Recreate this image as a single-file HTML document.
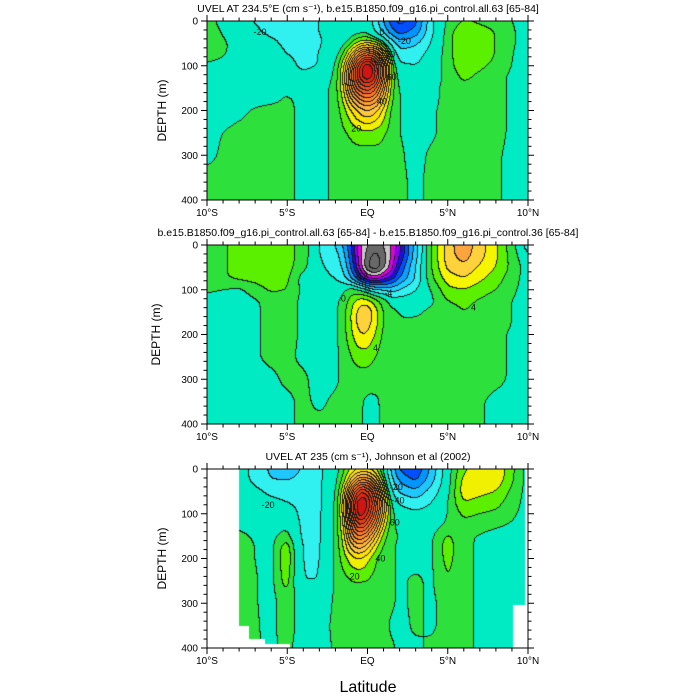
<!DOCTYPE html>
<html><head><meta charset="utf-8">
<style>
body{margin:0;background:#fff;width:700px;height:700px;overflow:hidden;font-family:"Liberation Sans",sans-serif}
#wrap{position:relative;width:700px;height:700px}
canvas{position:absolute}
svg{position:absolute;left:0;top:0}
</style></head><body>
<div id="wrap">
<canvas id="c1" width="321" height="179" style="left:207px;top:21px"></canvas>
<canvas id="c2" width="321" height="179" style="left:207px;top:245px"></canvas>
<canvas id="c3" width="321" height="179" style="left:207px;top:469px"></canvas>
<svg id="ov" width="700" height="700"></svg>
</div>
<script>
const lats=[-10,-8,-6,-5,-4,-3,-2,-1.5,-1,-0.5,0,0.5,1,1.5,2,3,4,5,6,8,10];
const depths=[0,25,50,75,100,125,150,175,200,250,300,350,400];
const panel1Values=[
[3,-8,-13,-12,-12,-10,-8,-6,-5,-4,-4,-14,-30,-45,-55,-45,-12,1,5,3,-3],
[4,-5,-12,-12,-11,-10,-8,-6,-4,-2,-2,-10,-22,-36,-45,-36,-12,3,9,5,-3],
[4,-2,-8,-12,-12,-11,-6,-2,5,12,15,12,5,-12,-26,-22,-9,3,9,5,-3],
[3,-2,-6,-10,-12,-10,-3,5,20,38,45,40,25,2,-16,-14,-6,3,9,5,-4],
[-1,-3,-5,-7,-12,-10,0,12,35,60,72,62,38,10,-8,-10,-5,3,8,4,-4],
[-2,-3,-4,-5,-8,-5,1,14,40,62,72,62,38,10,-3,-6,-4,2,6,2,-4],
[-2,-3,-3,-2,-4,-3,2,13,35,50,55,48,30,8,-1,-3,-2,2,4,2,-4],
[-2,-2,-2,1,-2,-3,2,10,25,35,40,35,22,6,0,-2,-2,2,3,2,-4],
[-2,-1,2,2,-2,-3,2,7,15,22,26,22,14,4,0,-2,-1,2,3,2,-4],
[-1,1,2,2,-2,-3,2,4,6,8,9,8,6,3,0,-2,-1,2,3,2,-4],
[-1,2,2,2,-2,-3,2,3,3,3,2,3,3,2,1,-2,1,2,3,1,-4],
[1,2,2,2,-2,-3,2,3,3,2,-1,2,3,2,1,-1,1,2,2,1,-4],
[2,2,2,2,-2,-3,2,3,3,2,2,2,3,2,1,-1,1,2,2,1,-4]];
const panel2Values=[
[1,2.5,3,3,1,-2,-4,-6,-10,-15,-18,-19,-18,-16,-13,-5,2,7,9.5,4.5,-3],
[1,2.5,3,3,1,-2,-3,-5,-9,-15,-19,-21,-19,-16,-12,-5,2,7,9,4.5,-2],
[1,2.5,3,3,0.5,-1.5,-3,-4,-8,-14,-20,-22,-19,-15,-10,-4,2,6.5,7.5,4,-1],
[1,2.5,3,2.5,-1,-1,-2,-3,-6,-10,-14,-15,-13,-11,-8,-4,1.5,5,6,3,-1],
[0.5,-0.5,2.5,2,-0.5,-1,-1,-0.5,1,0,-2,-4,-4,-5,-4,-2,0,3.5,4,2,-1],
[-1,-1,0.5,1,-0.5,-1,-0.5,0.5,3,5,5,3,1,-1,-1,-1,-0.5,2,2.5,1,-1],
[-1,-1,0.5,1,-0.5,-1,-0.5,1,4,7,8,5,2,0.5,0,-0.5,0.5,1,2,1,-1],
[-1,-1,0.5,1,-0.5,-1,-0.5,1,4,7,7,5,2,0.5,0,0.5,1,1,1,1,-1],
[-1,-1,0.5,1,-0.5,-1,-0.5,1,3.5,6,6,4,1.5,0.5,0.5,0.5,1,1,1,0.5,-1],
[-1,-1,0.5,0.5,-0.5,-1,-0.5,0.5,2,3,3,2,1,0.5,0.5,0.5,1,1,1,0.5,-1],
[-1,-1,-0.5,0.5,0.5,-1,-0.5,0.5,1,1,1,1,0.5,0.5,0.5,0.5,1,1,1,0.5,-1],
[-1,-1,-1,-0.5,0.5,-0.5,0.5,0.5,0.5,0.5,-0.5,-0.5,0.5,0.5,0.5,0.5,1,1,1,-0.5,-1],
[-1,-1,-1,-0.5,0.5,0.5,0.5,0.5,0.5,0.5,-0.5,-0.5,0.5,0.5,0.5,0.5,1,1,1,-0.5,-1]];
const panel3Values=[
[-5,-5,-22,-22,-20,-12,-3,3,10,14,14,10,0,-22,-42,-50,-28,-3,9,15,-2],
[-5,-5,-20,-21,-18,-12,-2,6,22,35,35,25,8,-16,-32,-42,-24,-3,12,14,-2],
[-3,-3,-12,-13,-13,-12,-1,12,40,60,58,42,18,-8,-22,-28,-16,-2,13,10,-2],
[-3,-3,-8,-10,-12,-12,0,15,50,72,68,50,25,0,-12,-16,-10,0,10,7,-2],
[-2,-2,-4,-6,-12,-12,1,15,48,72,62,45,22,3,-5,-8,-6,0,6,4,-2],
[-1,-1,-3,-2,-12,-12,1,13,40,58,50,35,15,2,-2,-4,-3,1,4,1,-2],
[1,1,-2,3,-12,-12,1,11,32,42,35,22,8,1,0,-2,-1,6,1,-2,-2],
[2,2,-2,9,-11,-11,1,9,22,28,22,12,4,1,-1,-2,-1,8,1,-2,-2],
[2,2,-2,10,-11,-11,1,7,13,16,12,6,2,1,-1,-2,-1,7,1,-2,-2],
[3,3,-2,8,-10,-10,1,3,5,5,5,3,2,1,-1,1,-1,5,1,-2,-2],
[3,3,-2,3,-3,-4,1,2,3,3,2,2,2,1,-1,1,-1,2,1,-2,-2],
[2,2,-1,2,-2,-2,1,2,2,2,2,2,2,-1,-2,1,-1,2,1,-2,-2],
[2,2,-1,1,-2,-2,0.5,2,3,3,3,2,2,1,-1,-1,1,2,1,-2,-2]];
const latTicks=[-10,-5,0,5,10];
const latTickLabels=["10°S","5°S","EQ","5°N","10°N"];
const depthTicks=[0,100,200,300,400];

const PX0=207,PW=321,PH=179,panelTops=[21,245,469];
function xScale(lat){return PX0+(lat+10)/20*PW;}
function yScale(d,top){return top+d/400*PH;}

function colorUV(v){
  if(v<-40)return[0,80,255];if(v<-30)return[0,150,255];if(v<-20)return[30,200,255];
  if(v<-10)return[48,240,240];if(v<0)return[0,235,195];
  const pos=[[46,224,60],[90,240,0],[240,240,0],[255,225,0],[255,200,60],[255,180,60],[255,160,50],[255,140,40],[255,120,40],[245,100,35],[240,80,30],[230,60,20],[220,40,20],[210,20,20],[200,0,0]];
  return pos[Math.min(pos.length-1,Math.floor(v/5))];
}
function levelUV(v){return v<0?Math.floor(v/10):Math.floor(v/5);}
function colorDiff(v){
  const neg=[[0,235,195],[48,240,240],[30,210,255],[10,160,255],[0,80,255],[20,20,220],[140,0,255],[224,0,224],[200,200,200],[104,104,104]];
  const pos=[[46,224,60],[90,240,0],[245,245,0],[255,210,60],[255,165,64]];
  if(v<0)return neg[Math.min(neg.length-1,Math.floor(-v/2))];
  return pos[Math.min(pos.length-1,Math.floor(v/2))];
}
function levelDiff(v){return Math.floor(v/2);}
function interp(grid,lat,d){
  let i=0;while(i<lats.length-2&&lat>lats[i+1])i++;
  let j=0;while(j<depths.length-2&&d>depths[j+1])j++;
  const tx=Math.max(0,Math.min(1,(lat-lats[i])/(lats[i+1]-lats[i])));
  const ty=Math.max(0,Math.min(1,(d-depths[j])/(depths[j+1]-depths[j])));
  const a=grid[j][i],b=grid[j][i+1],c=grid[j+1][i],e=grid[j+1][i+1];
  return a*(1-tx)*(1-ty)+b*tx*(1-ty)+c*(1-tx)*ty+e*tx*ty;
}
function maskObs(lat,d){
  if(lat<-8)return true;
  if(lat<-7.4&&d>350)return true;
  if(lat<-6.4&&d>380)return true;
  if(lat<-4.8&&d>390)return true;
  if(lat>9.8)return true;
  if(lat>9.05&&d>305)return true;
  return false;
}
function blur(f,R){
  const t=new Float32Array(PW*PH),o=new Float32Array(PW*PH);
  for(let y=0;y<PH;y++)for(let x=0;x<PW;x++){let s=0,n=0;for(let k=-R;k<=R;k++){const xx=Math.min(PW-1,Math.max(0,x+k));s+=f[y*PW+xx];n++;}t[y*PW+x]=s/n;}
  for(let y=0;y<PH;y++)for(let x=0;x<PW;x++){let s=0,n=0;for(let k=-R;k<=R;k++){const yy=Math.min(PH-1,Math.max(0,y+k));s+=t[yy*PW+x];n++;}o[y*PW+x]=s/n;}
  return o;
}
function drawPanel(id,grid,colorF,levelF,mask){
  const cv=document.getElementById(id),ctx=cv.getContext('2d');
  const img=ctx.createImageData(PW,PH),lv=new Array(PW*PH),m=new Array(PW*PH);
  let f=new Float32Array(PW*PH);
  for(let y=0;y<PH;y++)for(let x=0;x<PW;x++){
    const lat=(x+0.5)/PW*20-10,d=(y+0.5)/PH*400;
    f[y*PW+x]=interp(grid,lat,d);
    m[y*PW+x]=mask?mask(lat,d):false;
  }
  f=blur(blur(f,3),3);
  for(let k=0;k<PW*PH;k++){
    const v=f[k];lv[k]=levelF(v);
    const c=m[k]?[255,255,255]:colorF(v);
    img.data[k*4]=c[0];img.data[k*4+1]=c[1];img.data[k*4+2]=c[2];img.data[k*4+3]=255;
  }
  for(let y=0;y<PH;y++)for(let x=0;x<PW;x++){
    const k=y*PW+x;if(m[k])continue;
    let line=false;
    if(x<PW-1&&!m[k+1]&&lv[k+1]!==lv[k])line=true;
    if(y<PH-1&&!m[k+PW]&&lv[k+PW]!==lv[k])line=true;
    if(line){img.data[k*4]=25;img.data[k*4+1]=25;img.data[k*4+2]=25;}
  }
  ctx.putImageData(img,0,0);
}
drawPanel('c1',panel1Values,colorUV,levelUV,null);
drawPanel('c2',panel2Values,colorDiff,levelDiff,null);
drawPanel('c3',panel3Values,colorUV,levelUV,maskObs);

const NS='http://www.w3.org/2000/svg',ov=document.getElementById('ov');
function mk(tag,attrs,parent){const e=document.createElementNS(NS,tag);for(const k in attrs)e.setAttribute(k,attrs[k]);(parent||ov).appendChild(e);return e;}
const titles=["UVEL AT 234.5\u00B0E (cm s\u207B\u00B9), b.e15.B1850.f09_g16.pi_control.all.63 [65-84]",
"b.e15.B1850.f09_g16.pi_control.all.63 [65-84] - b.e15.B1850.f09_g16.pi_control.36 [65-84]",
"UVEL AT 235 (cm s\u207B\u00B9), Johnson et al (2002)"];
const yTitleX=[166,160,166];
panelTops.forEach((top,p)=>{
  const g=mk('g',{});
  
  
  const fr=mk('rect',{x:PX0,y:top,width:PW,height:PH,fill:'none',stroke:'#000','stroke-width':1},g);
  
  
  for(let l=-10;l<=10;l++){
    const x=xScale(l),len=(l%5===0)?6:3.5;
    const t1=mk('line',{x1:x,x2:x,y1:top+PH,y2:top+PH+len,stroke:'#000','stroke-width':1},g);
    
    
    const t2=mk('line',{x1:x,x2:x,y1:top,y2:top-len,stroke:'#000','stroke-width':1},g);
    
    
  }
  for(let d=0;d<=400;d+=20){
    const y=yScale(d,top),len=(d%100===0)?6:3.5;
    const t1=mk('line',{x1:PX0,x2:PX0-len,y1:y,y2:y,stroke:'#000','stroke-width':1},g);
    
    
    const t2=mk('line',{x1:PX0+PW,x2:PX0+PW+len,y1:y,y2:y,stroke:'#000','stroke-width':1},g);
    
    
  }
  latTicks.forEach((l,i)=>{
    const t=mk('text',{x:xScale(l),y:top+PH+16,'font-size':10,'text-anchor':'middle'},g);
    t.textContent=latTickLabels[i];
    
    
  });
  depthTicks.forEach(d=>{
    const t=mk('text',{x:PX0-9,y:yScale(d,top)+3.5,'font-size':10,'text-anchor':'end'},g);
    t.textContent=d;
    
    
  });
  const yt=mk('text',{x:0,y:0,'font-size':12,'text-anchor':'middle',transform:'translate('+yTitleX[p]+','+(top+PH/2)+') rotate(-90)'},g);
  yt.textContent='DEPTH (m)';
  
  
  const tt=mk('text',{x:368,y:top-9,'font-size':10.5,'text-anchor':'middle'},g);
  tt.textContent=titles[p];
  
  
});
const xt=mk('text',{x:368,y:692,'font-size':16,'text-anchor':'middle'});
xt.textContent='Latitude';


const cl=[[0,-6.7,25,'-20'],[0,0.9,25,'0'],[0,2.3,45,'-20'],[0,1.4,75,'20'],[0,1.5,125,'60'],[0,0.9,180,'40'],[0,-0.7,240,'20'],
[1,-0.4,70,'-12'],[1,0,100,'0'],[1,1.3,107,'-4'],[1,-1.5,120,'0'],[1,0.5,230,'4'],[1,6.6,140,'4'],
[2,-6.2,80,'-20'],[2,1.8,40,'-20'],[2,1.9,70,'-40'],[2,1.7,120,'60'],[2,0.8,200,'40'],[2,-0.8,240,'20']];
cl.forEach(c=>{
  const t=mk('text',{x:xScale(c[1]),y:yScale(c[2],panelTops[c[0]])+3,'font-size':9,'text-anchor':'middle',fill:'#111'});
  t.textContent=c[3];
  
  
});
</script>
</body></html>
